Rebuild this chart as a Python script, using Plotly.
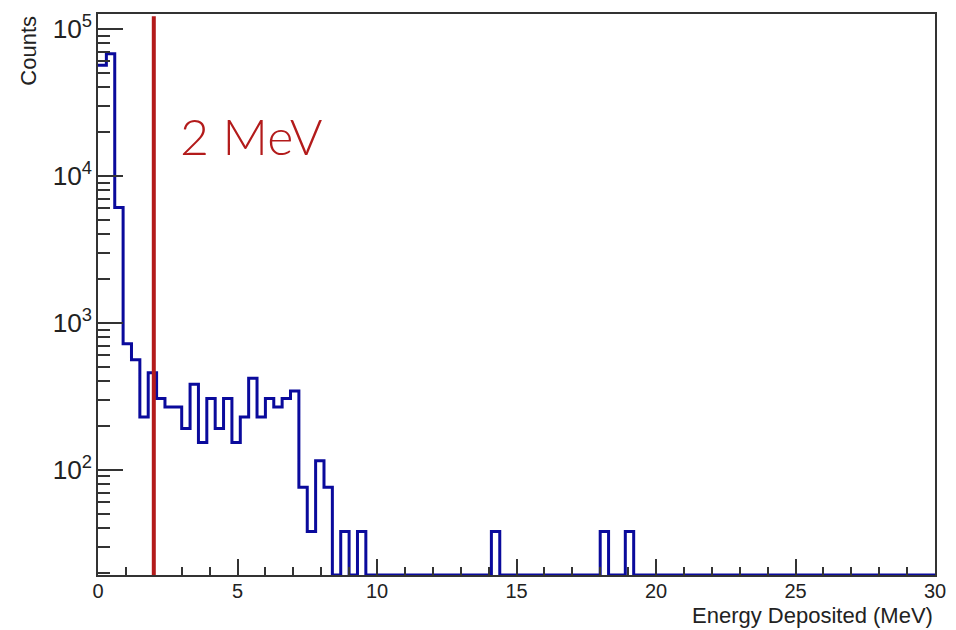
import plotly.graph_objects as go

# Energy deposited histogram: 100 bins of 0.3 MeV from 0 to 30 MeV
bin_width = 0.3
n_bins = 100

# Non-empty bin contents (bin index -> counts); all other bins are empty
counts_by_bin = {
    0: 56500, 1: 67800, 2: 6080, 3: 721, 4: 560, 5: 229, 6: 458, 7: 306,
    8: 267, 9: 267, 10: 191, 11: 382, 12: 153, 13: 306, 14: 191, 15: 306,
    16: 153, 17: 229, 18: 420, 19: 229, 20: 306, 21: 267, 22: 306, 23: 344,
    24: 76, 25: 38, 26: 115, 27: 76, 29: 38, 31: 38, 47: 38, 60: 38, 63: 38,
}

threshold_mev = 2.0
threshold_label = "2 MeV"

y_log_range = [1.284, 5.101]
y_floor = 10 ** y_log_range[0]

edges = [round(i * bin_width, 4) for i in range(n_bins + 1)]
counts = [counts_by_bin.get(i, 0) for i in range(n_bins)]
# empty bins sit on the bottom of the frame on a log axis
shown = [c if c > 0 else y_floor for c in counts]
step_y = shown + [shown[-1]]

fig = go.Figure()
fig.add_trace(go.Scatter(
    x=edges, y=step_y, mode="lines", line_shape="hv",
    line=dict(color="#0a0a9c", width=3), cliponaxis=True,
    hoverinfo="skip", showlegend=False,
))

font_family = "Liberation Sans, Arial, sans-serif"

fig.update_layout(
    width=956, height=630,
    margin=dict(l=98, r=21, t=10, b=55),
    paper_bgcolor="white", plot_bgcolor="white",
    xaxis=dict(
        range=[0, 30], dtick=5, tick0=0, ticks="inside", ticklen=16,
        tickwidth=1.5, tickcolor="#333", showgrid=False, zeroline=False,
        showline=True, linecolor="#333", linewidth=1.5, mirror=True,
        ticklabelstandoff=-3,
        tickfont=dict(family=font_family, size=20, color="#222"),
        minor=dict(dtick=1, ticks="inside", ticklen=8, tickwidth=1.5,
                   tickcolor="#333", showgrid=False),
    ),
    yaxis=dict(
        type="log", range=y_log_range, dtick=1, exponentformat="power",
        ticks="inside", ticklen=25, tickwidth=1.5, tickcolor="#333",
        showgrid=False, zeroline=False, showline=True, linecolor="#333",
        linewidth=1.5, mirror=True,
        tickfont=dict(family=font_family, size=21, color="#222"),
        minor=dict(ticks="inside", ticklen=12, tickwidth=1.5,
                   tickcolor="#333", showgrid=False),
    ),
)

# threshold marker
fig.add_shape(type="line", xref="x", yref="paper",
              x0=threshold_mev, x1=threshold_mev, y0=0, y1=0.996,
              line=dict(color="#b31b1b", width=4))
fig.add_annotation(x=threshold_mev + 0.86, xref="x", xanchor="left",
                   y=0.783, yref="paper", yanchor="middle",
                   text=threshold_label, showarrow=False,
                   font=dict(family="Lato, sans-serif", size=50, weight=300,
                             color="#b31b1b"))

# axis titles
fig.add_annotation(x=1.0, xref="paper", xanchor="right",
                   y=-0.073, yref="paper", yanchor="middle",
                   text="Energy Deposited (MeV)", showarrow=False,
                   font=dict(family=font_family, size=22, color="#222"))
fig.add_annotation(x=-0.084, xref="paper", xanchor="center",
                   y=1.0, yref="paper", yanchor="top", textangle=-90,
                   text="Counts", showarrow=False,
                   font=dict(family=font_family, size=22, color="#222"))

fig.write_html("out.html")
